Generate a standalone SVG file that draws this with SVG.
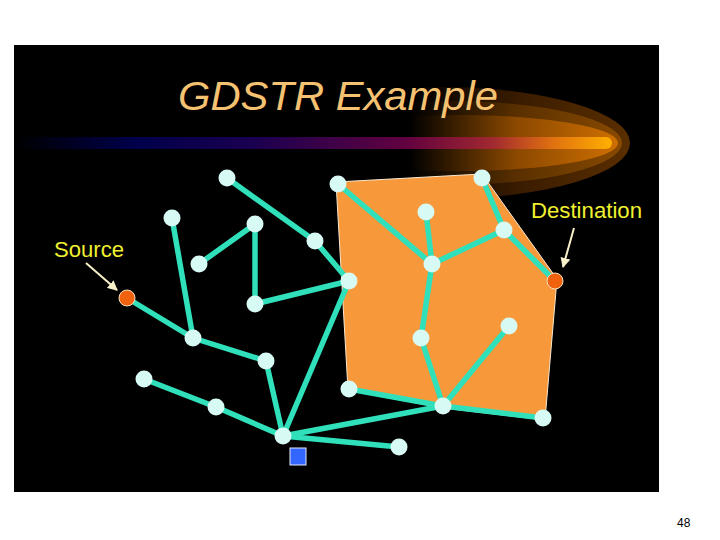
<svg xmlns="http://www.w3.org/2000/svg" width="720" height="540" viewBox="0 0 720 540">
<defs>
  <linearGradient id="bar" x1="14" y1="0" x2="612" y2="0" gradientUnits="userSpaceOnUse">
    <stop offset="0" stop-color="#000000"/>
    <stop offset="0.2" stop-color="#00004a"/>
    <stop offset="0.4" stop-color="#1a0050"/>
    <stop offset="0.65" stop-color="#600040"/>
    <stop offset="0.8" stop-color="#a02830"/>
    <stop offset="0.9" stop-color="#e07010"/>
    <stop offset="1" stop-color="#ffb000"/>
  </linearGradient>
  <linearGradient id="glow1" x1="410" y1="0" x2="630" y2="0" gradientUnits="userSpaceOnUse">
    <stop offset="0" stop-color="#000000"/>
    <stop offset="0.5" stop-color="#3a1c00"/>
    <stop offset="1" stop-color="#5a2e00"/>
  </linearGradient>
  <linearGradient id="glow2" x1="410" y1="0" x2="625" y2="0" gradientUnits="userSpaceOnUse">
    <stop offset="0" stop-color="#000000"/>
    <stop offset="0.5" stop-color="#5a3000"/>
    <stop offset="1" stop-color="#8a4a00"/>
  </linearGradient>
  <linearGradient id="glow3" x1="410" y1="0" x2="620" y2="0" gradientUnits="userSpaceOnUse">
    <stop offset="0" stop-color="#000000"/>
    <stop offset="0.5" stop-color="#8a4800"/>
    <stop offset="1" stop-color="#d07000"/>
  </linearGradient>
  <marker id="ah" viewBox="0 0 10 10" refX="9" refY="5" markerWidth="5" markerHeight="5" orient="auto">
    <path d="M0,0 L10,5 L0,10 Z" fill="#F8F0C8"/>
  </marker>
  <style>
    .edge { stroke: #30E0BA; stroke-width: 5.5; stroke-linecap: round; fill: none; }
    .node { fill: #D8FAF5; }
    .end { fill: #F0620E; stroke: #F8E0C0; stroke-width: 1; }
    .lbl { font-family: "Liberation Sans", Arial, sans-serif; font-size: 22px; fill: #F0F030; }
    .ptr { stroke: #F8F0C8; stroke-width: 2; marker-end: url(#ah); }
  </style>
</defs>
<rect x="0" y="0" width="720" height="540" fill="#ffffff"/>
<rect x="14" y="45" width="645" height="447" fill="#000000"/>

<g id="title">
  <ellipse cx="440" cy="143" rx="190" ry="56" fill="url(#glow1)"/>
  <ellipse cx="450" cy="143" rx="172" ry="42" fill="url(#glow2)"/>
  <ellipse cx="460" cy="143" rx="158" ry="28" fill="url(#glow3)"/>
  <line x1="20" y1="143" x2="606" y2="143" stroke="url(#bar)" stroke-width="12" stroke-linecap="round"/>
  <text x="178" y="110" font-family="Liberation Sans, Arial, sans-serif" font-style="italic" font-size="41" fill="#F5C272" textLength="320" lengthAdjust="spacingAndGlyphs">GDSTR Example</text>
</g>

<g id="region">
  <polygon points="336,182 482,174 557,279 545,420 443,408 348,390" fill="#F7983A" stroke="#F8E8D0" stroke-width="1"/>
</g>

<g id="connectors">
  <line class="edge" x1="227" y1="178" x2="315" y2="241"/>
  <line class="edge" x1="315" y1="241" x2="349" y2="281"/>
  <line class="edge" x1="255" y1="224" x2="199" y2="264"/>
  <line class="edge" x1="255" y1="224" x2="255" y2="304"/>
  <line class="edge" x1="255" y1="304" x2="349" y2="281"/>
  <line class="edge" x1="172" y1="218" x2="193" y2="338"/>
  <line class="edge" x1="127" y1="298" x2="193" y2="338"/>
  <line class="edge" x1="193" y1="338" x2="266" y2="361"/>
  <line class="edge" x1="266" y1="361" x2="283" y2="436"/>
  <line class="edge" x1="349" y1="281" x2="283" y2="436"/>
  <line class="edge" x1="144" y1="379" x2="216" y2="407"/>
  <line class="edge" x1="216" y1="407" x2="283" y2="436"/>
  <line class="edge" x1="283" y1="436" x2="443" y2="406"/>
  <line class="edge" x1="283" y1="436" x2="399" y2="447"/>
  <line class="edge" x1="338" y1="184" x2="432" y2="264"/>
  <line class="edge" x1="426" y1="212" x2="432" y2="264"/>
  <line class="edge" x1="432" y1="264" x2="504" y2="230"/>
  <line class="edge" x1="482" y1="178" x2="504" y2="230"/>
  <line class="edge" x1="504" y1="230" x2="555" y2="281"/>
  <line class="edge" x1="432" y1="264" x2="421" y2="338"/>
  <line class="edge" x1="421" y1="338" x2="443" y2="406"/>
  <line class="edge" x1="509" y1="326" x2="443" y2="406"/>
  <line class="edge" x1="349" y1="389" x2="443" y2="406"/>
  <line class="edge" x1="443" y1="406" x2="543" y2="418"/>
  <line class="ptr" x1="86" y1="263" x2="117" y2="290"/>
  <line class="ptr" x1="574" y1="228" x2="563" y2="267"/>
</g>

<g id="n1"><circle class="node" cx="227" cy="178" r="8.5"/></g>
<g id="n2"><circle class="node" cx="172" cy="218" r="8.5"/></g>
<g id="n3"><circle class="node" cx="255" cy="224" r="8.5"/></g>
<g id="n4"><circle class="node" cx="199" cy="264" r="8.5"/></g>
<g id="n5"><circle class="node" cx="315" cy="241" r="8.5"/></g>
<g id="n6"><circle class="node" cx="338" cy="184" r="8.5"/></g>
<g id="n7"><circle class="node" cx="482" cy="178" r="8.5"/></g>
<g id="n8"><circle class="node" cx="426" cy="212" r="8.5"/></g>
<g id="n9"><circle class="node" cx="504" cy="230" r="8.5"/></g>
<g id="n10"><circle class="node" cx="432" cy="264" r="8.5"/></g>
<g id="n11"><circle class="node" cx="349" cy="281" r="8.5"/></g>
<g id="n12"><circle class="node" cx="255" cy="304" r="8.5"/></g>
<g id="n13"><circle class="node" cx="193" cy="338" r="8.5"/></g>
<g id="n16"><circle class="node" cx="509" cy="326" r="8.5"/></g>
<g id="n17"><circle class="node" cx="421" cy="338" r="8.5"/></g>
<g id="n18"><circle class="node" cx="266" cy="361" r="8.5"/></g>
<g id="n19"><circle class="node" cx="144" cy="379" r="8.5"/></g>
<g id="n20"><circle class="node" cx="216" cy="407" r="8.5"/></g>
<g id="n21"><circle class="node" cx="349" cy="389" r="8.5"/></g>
<g id="n22"><circle class="node" cx="443" cy="406" r="8.5"/></g>
<g id="n23"><circle class="node" cx="543" cy="418" r="8.5"/></g>
<g id="n24"><circle class="node" cx="283" cy="436" r="8.5"/></g>
<g id="n25"><circle class="node" cx="399" cy="447" r="8.5"/></g>

<g id="source">
  <circle class="end" cx="127" cy="298" r="8"/>
  <text class="lbl" x="54" y="257" textLength="70" lengthAdjust="spacingAndGlyphs">Source</text>
</g>
<g id="destination">
  <circle class="end" cx="555" cy="281" r="8"/>
  <text class="lbl" x="531" y="218" textLength="111" lengthAdjust="spacingAndGlyphs">Destination</text>
</g>
<g id="sink">
  <rect x="290" y="448" width="16" height="17" fill="#3366FF" stroke="#E8E8FF" stroke-width="1"/>
</g>

<text x="677" y="527" font-family="Liberation Sans, Arial, sans-serif" font-size="12" fill="#000000">48</text>
</svg>
